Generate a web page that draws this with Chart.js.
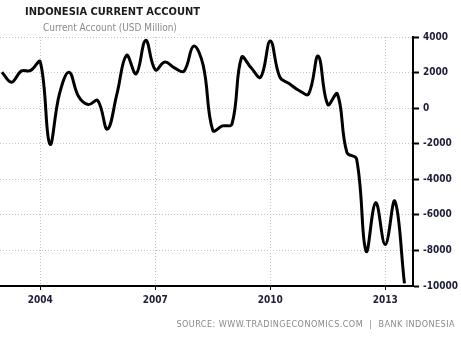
<!DOCTYPE html>
<html>
<head>
<meta charset="utf-8">
<script src="https://cdn.jsdelivr.net/npm/chart.js@4/dist/chart.umd.min.js"></script>
<style>
  html, body { margin: 0; padding: 0; background: #fff; }
  #wrap { position: relative; width: 461px; height: 342px; overflow: hidden; }
  #c { position: absolute; left: 0; top: 0; }
  .t { position: absolute; white-space: nowrap; }
  #title { left: 25px; top: 5px; font: bold 11px "DejaVu Sans Condensed", "DejaVu Sans", sans-serif; color: #1b1b1b; }
  #subtitle { left: 43px; top: 22px; font: 10px "DejaVu Sans Condensed", "DejaVu Sans", sans-serif; color: #8a8a8a; }
  #source { right: 6px; top: 319px; font: 9px "DejaVu Sans Condensed", "DejaVu Sans", sans-serif; color: #8a8a8a; letter-spacing: 0.45px; }
</style>
</head>
<body>
<div id="wrap">
  <canvas id="c" width="461" height="342"></canvas>
  <div class="t" id="title">INDONESIA CURRENT ACCOUNT</div>
  <div class="t" id="subtitle">Current Account (USD Million)</div>
  <div class="t" id="source">SOURCE: WWW.TRADINGECONOMICS.COM&nbsp; |&nbsp; BANK INDONESIA</div>
</div>
<script>
// Quarterly periods (plotted at quarter end)
const quarters = [
  '2002Q4',
  '2003Q1','2003Q2','2003Q3','2003Q4',
  '2004Q1','2004Q2','2004Q3','2004Q4',
  '2005Q1','2005Q2','2005Q3','2005Q4',
  '2006Q1','2006Q2','2006Q3','2006Q4',
  '2007Q1','2007Q2','2007Q3','2007Q4',
  '2008Q1','2008Q2','2008Q3','2008Q4',
  '2009Q1','2009Q2','2009Q3','2009Q4',
  '2010Q1','2010Q2','2010Q3','2010Q4',
  '2011Q1','2011Q2','2011Q3','2011Q4',
  '2012Q1','2012Q2','2012Q3','2012Q4',
  '2013Q1','2013Q2'
];
// Current account, USD million
const currentAccount = [
  2020,
  1460, 2080, 2120, 2600,
  -2020, 800, 2020, 650,
  200, 420, -1180, 800,
  2970, 1930, 3810, 2160,
  2590, 2270, 2080, 3490,
  2400, -1250, -1000, -900,
  2850, 2270, 1740, 3770,
  1740, 1370, 990, 800,
  2930, 200, 800, -2500,
  -2850, -8050, -5320, -7670,
  -5230, -9850
];
const xTickYears = [2004, 2007, 2010, 2013];
const yTicks = [-10000, -8000, -6000, -4000, -2000, 0, 2000, 4000];

function quarterToX(q) {
  const y = parseInt(q.slice(0, 4), 10);
  const n = parseInt(q.slice(5), 10);
  return y + n / 4;
}
const points = quarters.map((q, i) => ({ x: quarterToX(q), y: currentAccount[i] }));

const tickFont = { family: '"DejaVu Sans Condensed", "DejaVu Sans", sans-serif', size: 10, weight: 'bold' };

new Chart(document.getElementById('c'), {
  type: 'line',
  data: {
    datasets: [{
      data: points,
      borderColor: '#000',
      borderWidth: 3,
      pointRadius: 0,
      tension: 0.4,
      fill: false
    }]
  },
  options: {
    responsive: false,
    animation: false,
    layout: { padding: { top: 37, left: 0, right: 0, bottom: 0 } },
    plugins: { legend: { display: false }, tooltip: { enabled: false }, title: { display: false } },
    scales: {
      x: {
        type: 'linear',
        min: 2002.949,
        max: 2013.723,
        afterBuildTicks: s => { s.ticks = xTickYears.map(v => ({ value: v })); },
        afterFit: s => { s.height = 56; },
        ticks: { font: tickFont, color: '#1c1c3c', padding: 4, maxRotation: 0, callback: v => String(v) },
        grid: { color: '#c4c4c4', lineWidth: 1, tickLength: 4, tickColor: '#000', tickWidth: 1, tickBorderDash: [] },
        border: { display: true, color: '#000', width: 2, dash: [1, 2] }
      },
      y: {
        position: 'right',
        min: -10000,
        max: 4000,
        afterBuildTicks: s => { s.ticks = yTicks.map(v => ({ value: v })); },
        afterFit: s => { s.width = 48; },
        ticks: { font: tickFont, color: '#1c1c3c', padding: 4, callback: v => String(v) },
        grid: { color: '#c4c4c4', lineWidth: 1, tickLength: 6, tickColor: '#000', tickWidth: 2, tickBorderDash: [] },
        border: { display: true, color: '#000', width: 2, dash: [1, 2] }
      }
    }
  }
});
</script>
</body>
</html>
